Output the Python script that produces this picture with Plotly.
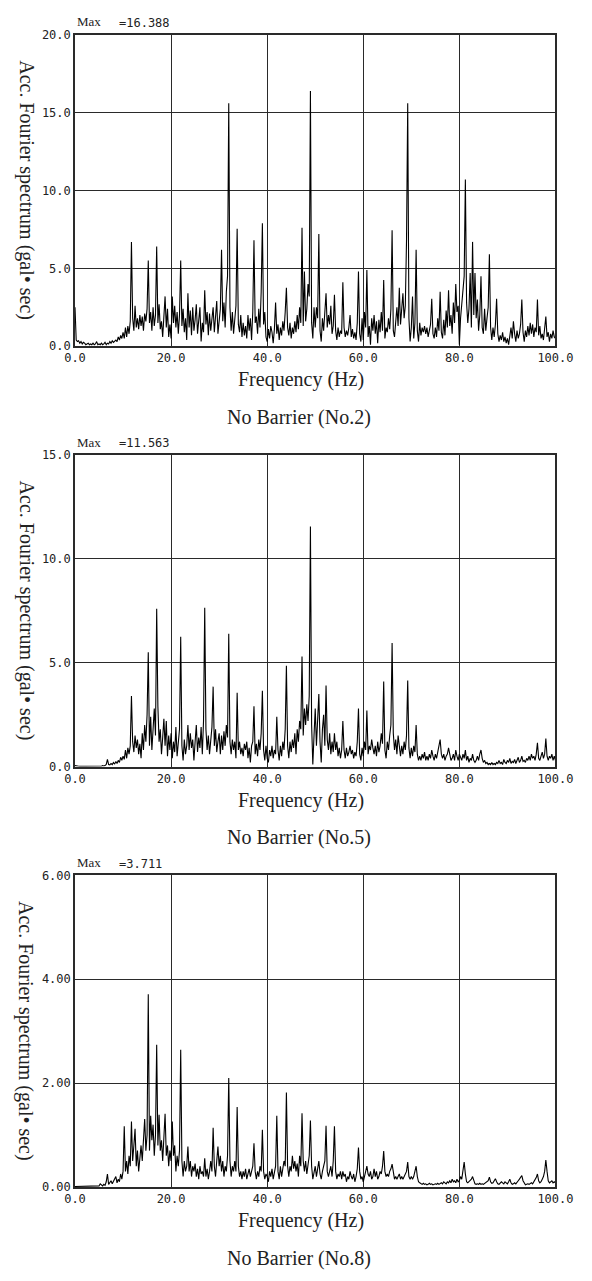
import plotly.graph_objects as go

# ---------------- data ----------------
FREQ_STEP = 0.25  # Hz between spectrum samples, 0 .. 100 Hz

amp_no2 = [
    2.5, 0.4, 0.3, 0.35, 0.2, 0.3, 0.15, 0.25, 0.2, 0.1, 0.15, 0.2, 0.1, 0.15, 0.1, 0.2, 0.1, 0.15, 0.3, 0.1,
    0.15, 0.1, 0.2, 0.1, 0.15, 0.25, 0.1, 0.2, 0.15, 0.3, 0.2, 0.35, 0.25, 0.3, 0.4, 0.3, 0.6, 0.4, 0.7, 0.5,
    0.9, 0.5, 1.2, 0.6, 1.3, 0.8, 1.6, 6.7, 1.8, 1.0, 2.6, 1.2, 1.8, 1.1, 2.0, 1.3, 1.9, 1.0, 2.1, 1.6,
    2.4, 5.5, 1.5, 2.2, 1.0, 2.5, 1.3, 2.0, 6.4, 1.5, 2.7, 1.1, 1.6, 0.6, 2.3, 3.2, 1.2, 2.4, 0.6, 1.4,
    0.5, 3.2, 1.5, 2.6, 1.2, 2.2, 0.8, 2.0, 5.5, 1.3, 2.4, 0.9, 1.8, 0.4, 3.4, 1.2, 2.3, 0.7, 2.5, 1.0,
    1.7, 2.7, 0.8, 1.9, 2.5, 0.3, 1.5, 0.9, 3.6, 1.4, 2.2, 0.7, 2.1, 1.0, 1.6, 2.5, 0.9, 1.8, 2.9, 0.8,
    1.5, 2.4, 6.2, 1.6, 2.8, 1.2, 3.5, 4.5, 15.6, 2.5, 1.0, 2.2, 0.8, 1.9, 2.6, 7.55, 1.4, 0.9, 2.0, 0.6,
    1.5, 0.7, 1.3, 0.5, 2.0, 1.0, 1.8, 0.4, 2.2, 6.8, 1.5, 1.9, 0.8, 2.4, 1.2, 3.5, 7.9, 1.4, 2.2, 0.6,
    0.3, 1.1, 0.5, 1.3, 0.9, 0.2, 1.1, 2.8, 0.8, 1.4, 0.4, 1.2, 0.7, 1.6, 1.0, 2.2, 3.75, 1.2, 0.7, 1.5,
    0.5, 1.2, 0.8, 1.6, 0.9, 2.0, 1.1, 2.5, 1.5, 7.6, 1.3, 4.8, 1.6, 2.4, 4.0, 3.2, 16.388, 1.5, 0.5, 2.5,
    1.2, 2.5, 1.8, 7.2, 1.0, 0.3, 1.8, 1.0, 2.4, 3.4, 1.2, 2.0, 1.4, 2.6, 0.8, 1.3, 3.3, 1.0, 0.4, 1.2,
    0.6, 1.0, 0.8, 4.1, 1.2, 0.6, 1.0, 0.7, 1.2, 2.0, 0.6, 1.1, 0.5, 0.9, 0.4, 1.5, 4.8, 0.8, 0.3, 1.8,
    0.4, 2.2, 1.2, 4.9, 0.6, 1.3, 0.1, 1.8, 1.0, 2.0, 0.8, 1.6, 0.2, 1.7, 0.9, 2.2, 1.0, 4.25, 0.5, 1.2,
    0.9, 1.8, 1.1, 2.4, 7.45, 1.0, 0.6, 1.6, 2.5, 1.3, 3.75, 1.4, 2.5, 3.4, 1.8, 2.6, 6.75, 15.6, 1.8, 0.3,
    1.2, 3.2, 0.5, 1.5, 6.2, 1.0, 0.3, 1.5, 0.7, 1.2, 0.9, 1.3, 0.8, 1.2, 0.6, 1.0, 1.4, 3.05, 0.8, 0.5,
    1.2, 0.6, 1.8, 1.0, 3.5, 0.9, 0.5, 1.7, 0.7, 2.3, 1.2, 3.6, 1.3, 2.0, 0.8, 2.8, 1.5, 4.0, 2.2, 2.6,
    0.1, 1.8, 2.8, 3.6, 4.5, 10.7, 2.8, 1.5, 2.4, 4.7, 1.2, 6.7, 2.0, 4.7, 1.8, 3.0, 1.0, 2.0, 4.5, 1.2,
    0.8, 2.4, 1.0, 1.8, 2.5, 5.9, 1.2, 0.4, 1.2, 0.6, 1.4, 3.05, 0.8, 0.3, 0.7, 0.4, 0.9, 0.3, 0.6, 0.2,
    0.5, 0.1, 0.7, 1.2, 0.5, 1.6, 0.8, 0.3, 1.0, 0.5, 0.8, 1.4, 3.0, 0.9, 0.3, 1.0, 0.6, 1.3, 0.7, 1.5,
    0.8, 1.4, 0.6, 1.2, 0.9, 3.0, 0.7, 1.3, 0.5, 0.8, 0.4, 1.0, 1.9, 0.6, 0.9, 0.3, 0.8, 0.5, 1.0, 0.6,
    0.5,
]

amp_no5 = [
    0.05, 0.03, 0.02, 0.02, 0.01, 0.02, 0.01, 0.02, 0.01, 0.01, 0.02, 0.01, 0.02, 0.01, 0.01, 0.02, 0.01, 0.02, 0.01, 0.02,
    0.02, 0.03, 0.02, 0.05, 0.03, 0.05, 0.1, 0.35, 0.1, 0.08, 0.15, 0.1, 0.2, 0.12, 0.25, 0.15, 0.3, 0.2, 0.45, 0.3,
    0.5, 0.35, 0.8, 0.4, 0.9, 0.6, 1.0, 3.4, 1.2, 0.7, 1.5, 0.9, 1.3, 0.6, 1.1, 0.4, 1.6, 0.8, 2.0, 1.2,
    2.5, 5.5, 1.0, 2.4, 0.8, 1.8, 2.8, 1.5, 7.6, 2.9, 1.2, 1.8, 0.6, 1.4, 2.3, 1.0, 2.2, 0.5, 1.5, 0.8,
    1.6, 0.4, 1.2, 0.7, 1.9, 0.5, 1.0, 1.8, 6.25, 1.0, 0.3, 1.3, 0.6, 1.0, 2.0, 0.8, 1.6, 0.9, 1.3, 0.3,
    1.2, 2.0, 0.7, 1.4, 0.9, 1.9, 0.6, 2.2, 7.65, 1.8, 0.8, 1.5, 0.6, 1.4, 1.9, 3.85, 1.0, 1.8, 0.7, 1.2,
    1.6, 0.6, 1.5, 0.8, 1.7, 1.0, 2.0, 1.4, 6.4, 1.2, 0.6, 1.3, 0.8, 1.2, 0.4, 3.55, 0.8, 1.2, 0.6, 0.9,
    0.5, 1.1, 0.8, 1.2, 0.4, 0.9, 0.2, 1.0, 1.2, 2.9, 0.6, 1.1, 0.5, 1.3, 0.8, 1.6, 3.65, 0.8, 0.3, 1.0,
    0.4, 0.2, 0.8, 0.5, 1.0, 0.4, 0.8, 0.6, 2.4, 0.8, 0.3, 1.0, 0.5, 1.2, 0.8, 1.8, 4.85, 1.0, 0.4, 1.2,
    0.7, 1.3, 0.9, 1.6, 0.6, 1.8, 1.2, 2.2, 1.8, 5.3, 1.5, 2.8, 2.0, 3.0, 2.2, 3.4, 11.563, 2.0, 0.1, 1.5,
    2.8, 1.0, 2.0, 3.5, 1.2, 0.2, 1.8, 2.5, 1.0, 3.9, 1.3, 0.8, 1.6, 0.6, 1.2, 0.7, 1.6, 0.8, 1.2, 0.5,
    0.9, 0.4, 0.8, 2.2, 0.8, 0.4, 0.9, 0.5, 0.7, 1.0, 0.6, 0.8, 0.4, 0.7, 0.5, 1.2, 2.8, 0.6, 0.3, 0.9,
    0.5, 1.2, 0.8, 2.7, 0.6, 1.0, 0.8, 1.3, 0.9, 0.6, 1.0, 0.5, 1.2, 0.7, 1.0, 1.6, 1.1, 4.1, 0.8, 0.4,
    1.2, 0.8, 1.5, 2.0, 5.95, 1.6, 0.8, 1.3, 0.6, 1.5, 1.0, 0.5, 1.0, 0.6, 1.2, 0.8, 1.5, 4.15, 0.9, 0.4,
    0.9, 0.5, 1.0, 0.7, 2.0, 0.6, 0.3, 0.5, 0.3, 0.6, 0.4, 0.7, 0.3, 0.5, 0.3, 0.6, 0.4, 0.8, 0.5, 0.3,
    0.6, 0.4, 0.7, 1.0, 1.3, 0.6, 0.4, 0.6, 0.3, 0.5, 0.6, 0.9, 0.5, 0.3, 0.4, 0.6, 0.3, 0.8, 0.5, 0.3,
    0.6, 0.4, 0.3, 0.6, 0.4, 0.8, 0.3, 0.5, 0.2, 0.4, 0.3, 0.6, 0.3, 0.2, 0.3, 0.5, 0.3, 0.6, 0.8, 0.4,
    0.2, 0.3, 0.15, 0.2, 0.1, 0.15, 0.1, 0.2, 0.1, 0.15, 0.1, 0.2, 0.15, 0.3, 0.15, 0.2, 0.1, 0.35, 0.2, 0.15,
    0.3, 0.2, 0.4, 0.15, 0.25, 0.2, 0.35, 0.15, 0.3, 0.45, 0.2, 0.3, 0.5, 0.25, 0.3, 0.2, 0.4, 0.3, 0.5, 0.3,
    0.6, 0.4, 0.5, 0.3, 0.6, 1.15, 0.4, 0.3, 0.5, 0.7, 0.4, 0.6, 1.35, 0.5, 0.3, 0.5, 0.4, 0.6, 0.3, 0.5,
    0.3,
]

amp_no8 = [
    0.01, 0.01, 0.01, 0.01, 0.01, 0.01, 0.01, 0.01, 0.01, 0.01, 0.01, 0.01, 0.01, 0.01, 0.01, 0.01, 0.01, 0.01, 0.01, 0.01,
    0.02, 0.06, 0.03, 0.02, 0.05, 0.03, 0.1, 0.25, 0.05, 0.08, 0.12, 0.06, 0.1, 0.15, 0.2, 0.08, 0.15, 0.1, 0.25, 0.15,
    0.3, 1.17, 0.3, 0.5, 0.25, 0.6, 0.4, 1.26, 0.5, 0.8, 1.12, 0.4, 0.7, 0.3, 0.6, 0.8, 0.5, 1.0, 1.31, 0.7,
    1.0, 3.711, 0.7, 1.37, 0.9, 1.2, 0.6, 1.0, 2.74, 0.8, 1.39, 0.7, 0.9, 0.5, 1.0, 1.41, 0.6, 0.8, 0.4, 0.7,
    0.5, 1.26, 0.6, 0.8, 0.3, 0.6, 0.4, 0.7, 2.64, 0.5, 0.2, 0.5, 0.3, 0.4, 0.78, 0.3, 0.5, 0.2, 0.4, 0.3,
    0.45, 0.2, 0.35, 0.15, 0.4, 0.25, 0.3, 0.2, 0.55, 0.2, 0.35, 0.15, 0.3, 0.5, 0.3, 1.14, 0.4, 0.2, 0.5, 0.78,
    0.4, 0.6, 0.3, 0.5, 0.2, 0.4, 0.3, 0.6, 2.1, 0.5, 0.2, 0.4, 0.3, 0.5, 0.3, 1.54, 0.4, 0.2, 0.3, 0.15,
    0.3, 0.2, 0.35, 0.15, 0.25, 0.35, 0.2, 0.3, 0.4, 0.84, 0.3, 0.15, 0.3, 0.2, 0.4, 0.3, 1.1, 0.3, 0.15, 0.25,
    0.2, 0.1, 0.3, 0.2, 0.35, 0.15, 0.3, 0.4, 1.37, 0.3, 0.15, 0.4, 0.2, 0.35, 0.5, 0.4, 1.82, 0.4, 0.2, 0.4,
    0.3, 0.6, 0.35, 0.5, 0.3, 0.45, 0.2, 0.6, 0.4, 1.42, 0.5, 0.3, 0.5, 0.25, 0.4, 0.6, 1.28, 0.4, 0.15, 0.3,
    0.4, 0.2, 0.35, 0.5, 0.25, 0.15, 0.3, 0.4, 0.5, 1.18, 0.3, 0.2, 0.3, 0.4, 0.2, 0.5, 1.17, 0.3, 0.15, 0.25,
    0.2, 0.3, 0.15, 0.3, 0.2, 0.25, 0.1, 0.2, 0.15, 0.3, 0.2, 0.15, 0.25, 0.1, 0.2, 0.35, 0.76, 0.3, 0.15, 0.2,
    0.1, 0.2, 0.3, 0.4, 0.25, 0.2, 0.3, 0.15, 0.2, 0.35, 0.2, 0.3, 0.15, 0.2, 0.3, 0.25, 0.4, 0.69, 0.3, 0.2,
    0.25, 0.2, 0.3, 0.35, 0.44, 0.25, 0.15, 0.2, 0.15, 0.2, 0.25, 0.15, 0.2, 0.15, 0.2, 0.25, 0.3, 0.48, 0.2, 0.15,
    0.2, 0.15, 0.2, 0.3, 0.4, 0.2, 0.1, 0.08, 0.06, 0.05, 0.07, 0.05, 0.06, 0.04, 0.05, 0.07, 0.05, 0.06, 0.04, 0.05,
    0.06, 0.05, 0.07, 0.05, 0.06, 0.08, 0.06, 0.1, 0.08, 0.06, 0.1, 0.08, 0.12, 0.08, 0.15, 0.1, 0.12, 0.08, 0.15, 0.1,
    0.12, 0.2, 0.15, 0.3, 0.48, 0.25, 0.1, 0.08, 0.1, 0.12, 0.15, 0.2, 0.1, 0.06, 0.05, 0.06, 0.05, 0.07, 0.05, 0.06,
    0.05, 0.07, 0.08, 0.1, 0.12, 0.19, 0.1, 0.07, 0.08, 0.12, 0.16, 0.1, 0.06, 0.05, 0.07, 0.1, 0.08, 0.06, 0.1, 0.08,
    0.06, 0.1, 0.15, 0.08, 0.05, 0.06, 0.08, 0.06, 0.1, 0.12, 0.15, 0.18, 0.22, 0.12, 0.06, 0.04, 0.05, 0.06, 0.05, 0.06,
    0.08, 0.06, 0.1, 0.12, 0.18, 0.25, 0.12, 0.08, 0.1, 0.15, 0.2, 0.3, 0.52, 0.3, 0.12, 0.08, 0.1, 0.12, 0.08, 0.1,
    0.08,
]

panel_titles = ["No Barrier (No.2)", "No Barrier (No.5)", "No Barrier (No.8)"]
max_labels = ["=16.388", "=11.563", "=3.711"]
y_max = [20, 15, 6]
y_tickvals = [[0, 5, 10, 15, 20], [0, 5, 10, 15], [0, 2, 4, 6]]
y_ticktext = [["0.0", "5.0", "10.0", "15.0", "20.0"],
              ["0.0", "5.0", "10.0", "15.0"],
              ["0.00", "2.00", "4.00", "6.00"]]
x_tickvals = [0, 20, 40, 60, 80, 100]
x_ticktext = ["0.0", "20.0", "40.0", "60.0", "80.0", "100.0"]
x_title = "Frequency (Hz)"
y_title = "Acc. Fourier spectrum (gal\u2022 sec)"

# ---------------- layout geometry (pixels) ----------------
W, H = 592, 1281
PLOT_L, PLOT_R = 67.3, 572.5
PANEL_TOP = [28, 453, 878]
PANEL_H = 315

def px(x):
    return x / W

def py(y):
    return 1 - y / H

SERIF = "Liberation Serif, Times New Roman, serif"
MONO = "DejaVu Sans Mono, monospace"
LINE_C = "#2a2a2a"

fig = go.Figure()
amps = [amp_no2, amp_no5, amp_no8]
annotations = []
layout_axes = {}

for i, amp in enumerate(amps):
    freq = [k * FREQ_STEP for k in range(len(amp))]
    n = i + 1
    xa = "x" if n == 1 else f"x{n}"
    ya = "y" if n == 1 else f"y{n}"
    fig.add_trace(go.Scatter(x=freq, y=amp, mode="lines",
                             line=dict(color="black", width=1.1),
                             xaxis=xa, yaxis=ya, showlegend=False,
                             hoverinfo="skip"))
    top = PANEL_TOP[i]
    bot = top + PANEL_H
    xkey = "xaxis" if n == 1 else f"xaxis{n}"
    ykey = "yaxis" if n == 1 else f"yaxis{n}"
    layout_axes[xkey] = dict(
        domain=[px(PLOT_L), px(PLOT_R)], anchor=ya, range=[0, 100],
        tickmode="array", tickvals=x_tickvals, ticktext=x_ticktext,
        showgrid=True, gridcolor=LINE_C, gridwidth=1.3,
        showline=True, linecolor=LINE_C, linewidth=1.6, mirror=True,
        zeroline=False, ticks="", ticklen=0,
        tickfont=dict(family=MONO, size=12, color="#222"),
        fixedrange=True,
    )
    layout_axes[ykey] = dict(
        domain=[py(bot), py(top)], anchor=xa, range=[0, y_max[i]],
        tickmode="array", tickvals=y_tickvals[i], ticktext=y_ticktext[i],
        showgrid=True, gridcolor=LINE_C, gridwidth=1.3,
        showline=True, linecolor=LINE_C, linewidth=1.6, mirror=True,
        zeroline=False, ticks="", ticklen=0,
        tickfont=dict(family=MONO, size=12, color="#222"),
        fixedrange=True,
    )
    # Max label
    annotations.append(dict(xref="paper", yref="paper", x=px(PLOT_L), y=py(top - 13),
                            text="Max", showarrow=False, xanchor="left", yanchor="middle",
                            font=dict(family=SERIF, size=13, color="#222")))
    annotations.append(dict(xref="paper", yref="paper", x=px(111), y=py(top - 12),
                            text=max_labels[i], showarrow=False, xanchor="left", yanchor="middle",
                            font=dict(family=MONO, size=12, color="#222")))
    # x title
    annotations.append(dict(xref="paper", yref="paper", x=px(305), y=py(bot + 34),
                            text=x_title, showarrow=False, xanchor="center", yanchor="middle",
                            font=dict(family=SERIF, size=20, color="#222")))
    # panel caption
    annotations.append(dict(xref="paper", yref="paper", x=px(303), y=py(bot + 72),
                            text=panel_titles[i], showarrow=False, xanchor="center", yanchor="middle",
                            font=dict(family=SERIF, size=20, color="#222")))
    # y title (reads top to bottom)
    annotations.append(dict(xref="paper", yref="paper", x=px(16), y=py(top + PANEL_H / 2),
                            text=y_title, showarrow=False, xanchor="center", yanchor="middle",
                            textangle=90,
                            font=dict(family=SERIF, size=20, color="#222")))

fig.update_layout(
    width=W, height=H,
    margin=dict(l=0, r=0, t=0, b=0),
    paper_bgcolor="white", plot_bgcolor="white",
    annotations=annotations,
    **layout_axes,
)

fig.write_html("out.html", include_plotlyjs=True, config={"displayModeBar": False})
